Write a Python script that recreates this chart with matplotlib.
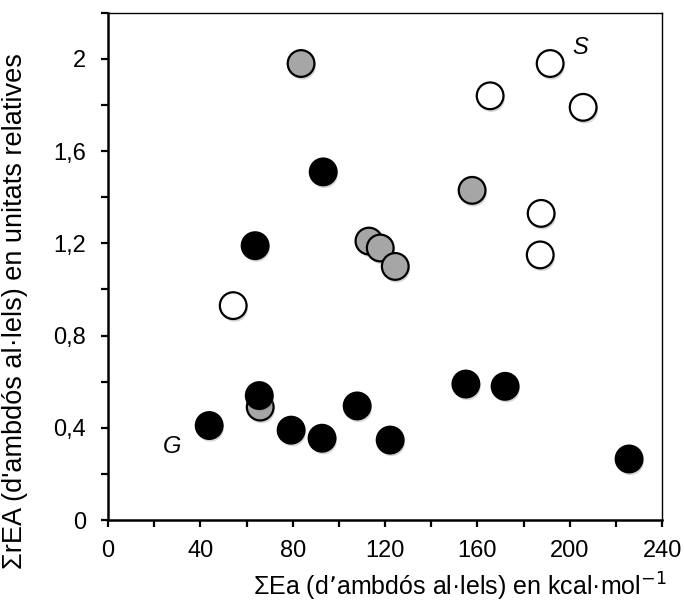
import matplotlib
matplotlib.use("Agg")
import matplotlib.pyplot as plt
import matplotlib.patheffects as pe
from matplotlib.ticker import MultipleLocator, FuncFormatter

plt.rcParams['font.family'] = ['Liberation Sans', 'DejaVu Sans']

black_x = [43.8, 63.7, 65.5, 79.3, 92.7, 93.2, 107.9, 122.2, 155.0, 172.0, 225.7]
black_y = [0.41, 1.19, 0.54, 0.39, 0.355, 1.51, 0.495, 0.347, 0.59, 0.58, 0.265]

gray_x = [83.6, 65.9, 113.0, 117.9, 124.4, 157.7]
gray_y = [1.98, 0.49, 1.21, 1.18, 1.10, 1.43]

white_x = [54.2, 165.5, 191.5, 205.8, 187.6, 187.2]
white_y = [0.93, 1.84, 1.98, 1.79, 1.33, 1.15]

xlabel = "ΣEa (d’ambdós al·lels) en kcal·mol$^{-1}$"
ylabel = "ΣrEA (d'ambdós al·lels) en unitats relatives"

W, H = 684, 609
fig = plt.figure(figsize=(W / 100, H / 100), dpi=100)
ax = fig.add_axes([0.158, 0.146, 0.810, 0.833])

shadow = [pe.SimplePatchShadow(offset=(1, -2), shadow_rgbFace='0.55', alpha=0.35), pe.Normal()]
s = 370
sc1 = ax.scatter(white_x, white_y, s=s, facecolor='white', edgecolor='black', linewidth=1.6, zorder=3)
sc2 = ax.scatter(gray_x, gray_y, s=s, facecolor='#a6a6a6', edgecolor='black', linewidth=1.6, zorder=3)
sc3 = ax.scatter(black_x, black_y, s=s, facecolor='black', edgecolor='black', linewidth=1.6, zorder=3)
for sc in (sc1, sc2, sc3):
    sc.set_path_effects(shadow)

ax.text(204.5, 2.05, "S", fontsize=17, style='italic', ha='center', va='center')
ax.text(27.7, 0.32, "G", fontsize=17, style='italic', ha='center', va='center')

ax.set_xlim(0, 240)
ax.set_ylim(0, 2.2)
ax.xaxis.set_major_locator(MultipleLocator(40))
ax.xaxis.set_minor_locator(MultipleLocator(20))
ax.yaxis.set_major_locator(MultipleLocator(0.4))
ax.yaxis.set_minor_locator(MultipleLocator(0.2))

def yfmt(v, pos):
    txt = ("%.1f" % v)
    if txt.endswith(".0"):
        txt = txt[:-2]
    return txt.replace(".", ",")

ax.yaxis.set_major_formatter(FuncFormatter(yfmt))
ax.tick_params(axis='both', which='both', direction='out', length=5, width=1.6, labelsize=17, colors='black')
ax.tick_params(axis='x', which='major', pad=9)
ax.tick_params(axis='y', which='major', pad=11)

for side in ('left', 'bottom'):
    ax.spines[side].set_linewidth(1.8)
for side in ('top', 'right'):
    ax.spines[side].set_linewidth(1.0)

fig.text(460 / W, 1 - 587 / H, xlabel, fontsize=18, ha='center', va='center')
fig.text(15 / W, 1 - 311 / H, ylabel, fontsize=19.5, rotation=90, ha='center', va='center')

fig.savefig("out.png", dpi=100)
